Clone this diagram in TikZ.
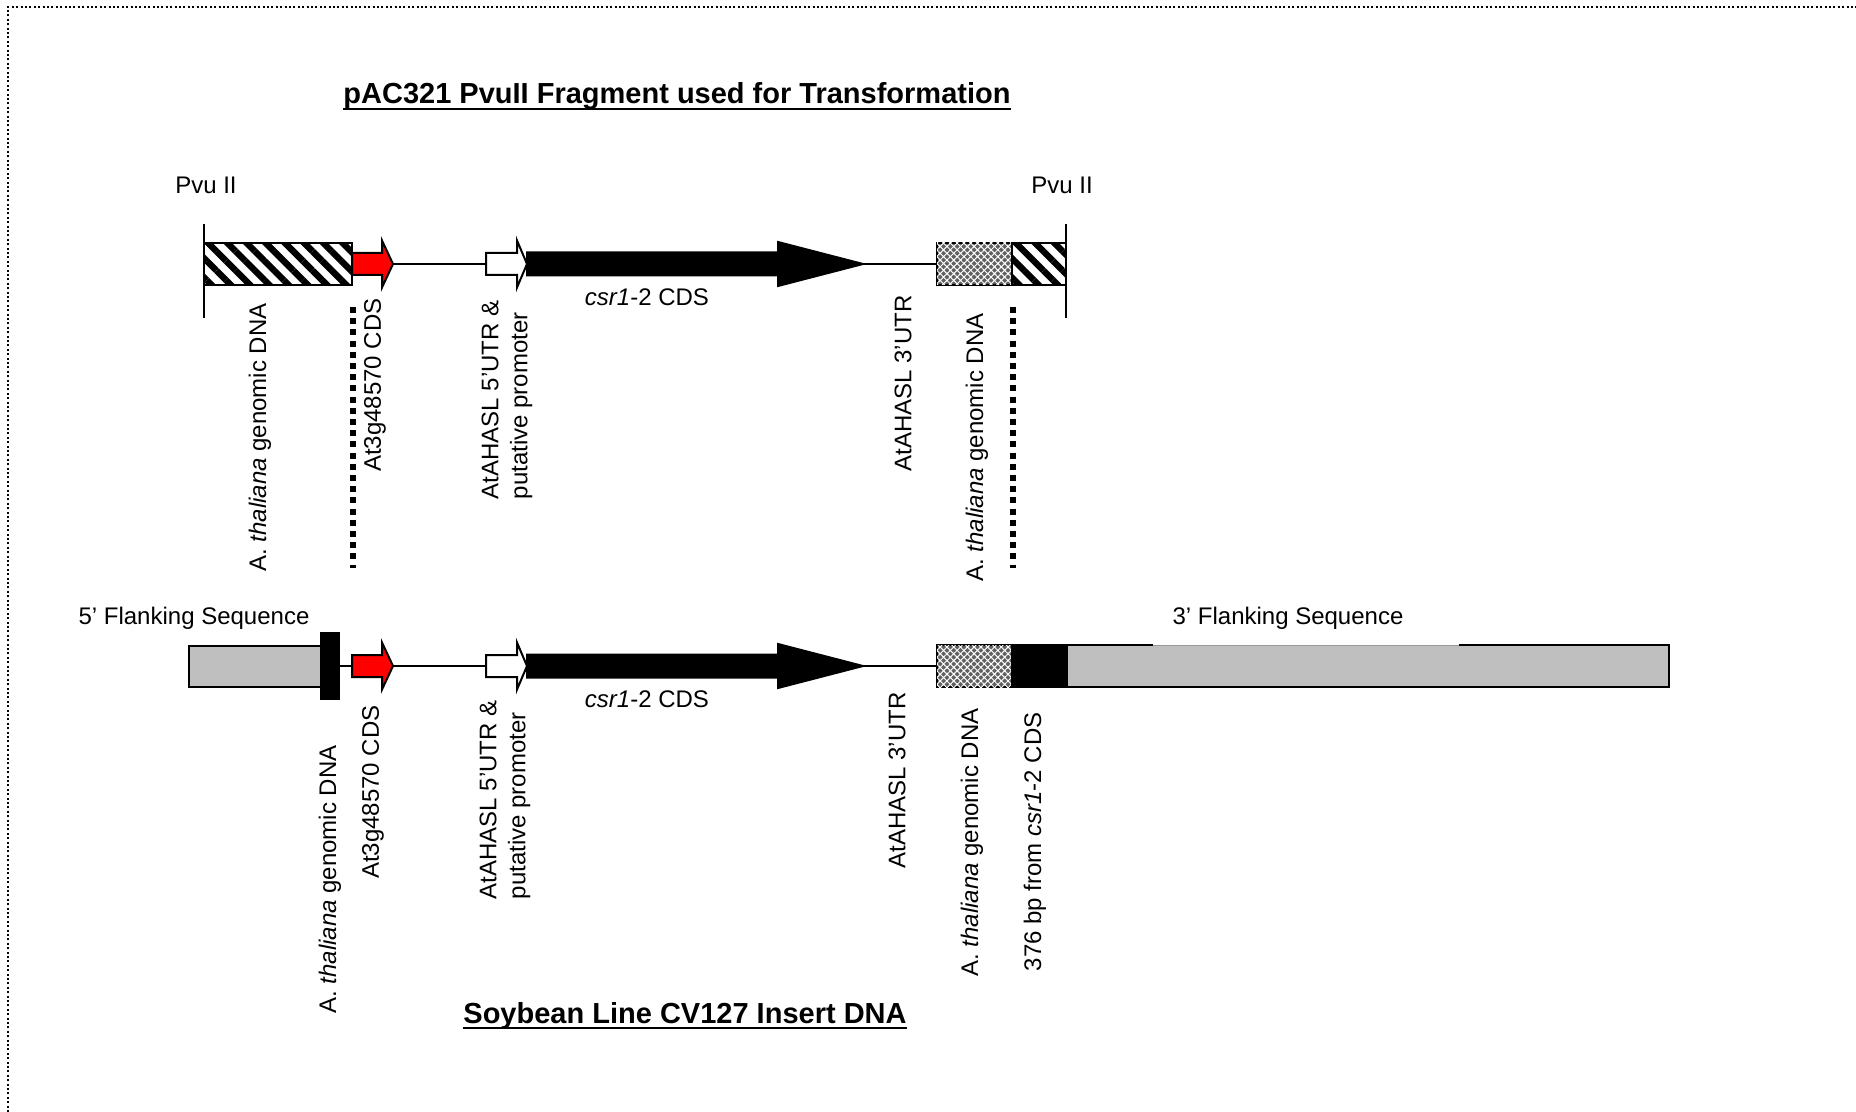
\documentclass[tikz,border=0pt]{standalone}
\usepackage{fontspec}
\setmainfont{Liberation Sans}
\usetikzlibrary{patterns.meta}

% arrow-shaped feature: style, tail x, head base x, tip x, centre y, half shaft, half head, name
\newcommand{\featarrow}[8]{%
  \draw[#1] (#2,#5-#6) -- (#3,#5-#6) -- (#3,#5-#7) -- (#4,#5) -- (#3,#5+#7) -- (#3,#5+#6) -- (#2,#5+#6) -- cycle;
  \coordinate (#8-tail) at (#2,#5);
  \coordinate (#8-tip) at (#4,#5);
}

\tikzset{
  map/.style = {line width = 0.8pt},
  featbox/.style = {draw = black, line width = 1pt},
  stripes/.style = {featbox, pattern = {Lines[angle = -45, distance = 6.8pt, line width = 3.2pt]}},
  checks/.style = {featbox, fill = black!62, postaction = {pattern = {Hatch[angle = 45, distance = 2.4pt, line width = 0.5pt]}, pattern color = white}},
  flank/.style = {fill = black!25},
  redgene/.style = {featbox, fill = red},
  promgene/.style = {featbox, fill = white},
  cdsgene/.style = {featbox, fill = black},
  feature/.style = {font = \fontsize{12}{14.5}\selectfont, inner sep = 0pt},
  vlabel/.style = {feature, rotate = 90, anchor = east, align = left},
  heading/.style = {font = \fontsize{14.5}{17}\selectfont\bfseries, inner sep = 0pt, anchor = base},
  uline/.style = {line width = 1.1pt},
  joint/.style = {line width = 3.2pt, dash pattern = on 3pt off 2.6pt},
  cutline/.style = {line width = 1pt},
  frame/.style = {line width = 1pt, dash pattern = on 1pt off 1.2pt}
}

\begin{document}
\begin{tikzpicture}[x = 0.5pt, y = -0.5pt]
\useasboundingbox (0,0) rectangle (1856,1112);
\draw[frame] (8,1112) -- (8,7) -- (1856,7);

% titles
\node[heading] (toptitle) at (677,104) {pAC321 PvuII Fragment used for Transformation};
\node[heading] (bottitle) at (685,1023) {Soybean Line CV127 Insert DNA};
\draw[uline] ([yshift = -2.4pt]toptitle.base west) -- ([yshift = -2.4pt]toptitle.base east);
\draw[uline] ([yshift = -2.4pt]bottitle.base west) -- ([yshift = -2.4pt]bottitle.base east);

% shared cassette on both lines
\foreach \c/\r in {264/top, 666/bot} {
  \featarrow{redgene}{352}{382}{393}{\c}{11}{23.5}{red-\r}
  \featarrow{promgene}{486}{517}{527}{\c}{11}{23.5}{prom-\r}
  \featarrow{cdsgene}{527}{778}{863}{\c}{11.5}{22}{cds-\r}
  \draw[checks] (937,\c-21) rectangle (1012,\c+21);
  \coordinate (utr-\r) at (937,\c);
  \draw[map] (red-\r-tip) -- (prom-\r-tail);
  \draw[map] (cds-\r-tip) -- (utr-\r);
  \node[feature] (cdslbl-\r) at (647,\c+33) {\textit{csr1}-2 CDS};
}

% pAC321 fragment
\draw[stripes] (204,243) rectangle (352,285);
\draw[stripes] (1012,243) rectangle (1066,285);
\draw[cutline] (204,224) -- (204,318);
\draw[cutline] (1066,224) -- (1066,318);
\node[feature] (pvuleft) at (206,185) {Pvu II};
\node[feature] (pvuright) at (1062,185) {Pvu II};
\draw[joint] (353,307) -- (353,568);
\draw[joint] (1013,307) -- (1013,568);

\node[vlabel] (gdna-top) at (260,303) {A. \textit{thaliana} genomic DNA};
\node[vlabel] (at3g-top) at (375,298) {At3g48570 CDS};
\node[vlabel] (prom5-top) at (507,300) {AtAHASL 5’UTR \&\\putative promoter};
\node[vlabel] (utr3-top) at (903,295) {AtAHASL 3’UTR};
\node[vlabel] (gdna3-top) at (977,313) {A. \textit{thaliana} genomic DNA};

% CV127 insert with flanking sequence
\fill[flank] (189,646) rectangle (320,687);
\draw[featbox] (320,646) -- (189,646) -- (189,687) -- (320,687);
\fill[black] (320,632) rectangle (340,700);
\coordinate (junc5) at (340,666);
\draw[map] (junc5) -- (red-bot-tail);
\fill[black] (1012,645) rectangle (1067,687);
\draw[featbox] (1012,645) rectangle (1067,687);
\fill[flank] (1067,645) rectangle (1669,687);
\draw[featbox] (1459,645) -- (1669,645) -- (1669,687) -- (1067,687) -- (1067,645) -- (1153,645);
\draw[black!40, line width = 0.4pt] (1153,645.5) -- (1459,645.5);
\node[feature] (flank5) at (194,618) {5’ Flanking Sequence};
\node[feature] (flank3) at (1288,618) {3’ Flanking Sequence};

\node[vlabel] (gdna-bot) at (330,745) {A. \textit{thaliana} genomic DNA};
\node[vlabel] (at3g-bot) at (373,705) {At3g48570 CDS};
\node[vlabel] (prom5-bot) at (505,700) {AtAHASL 5’UTR \&\\putative promoter};
\node[vlabel] (utr3-bot) at (897,692) {AtAHASL 3’UTR};
\node[vlabel] (gdna3-bot) at (972,708) {A. \textit{thaliana} genomic DNA};
\node[vlabel] (bp376) at (1035,712) {376 bp from \textit{csr1}-2 CDS};

\end{tikzpicture}
\end{document}
